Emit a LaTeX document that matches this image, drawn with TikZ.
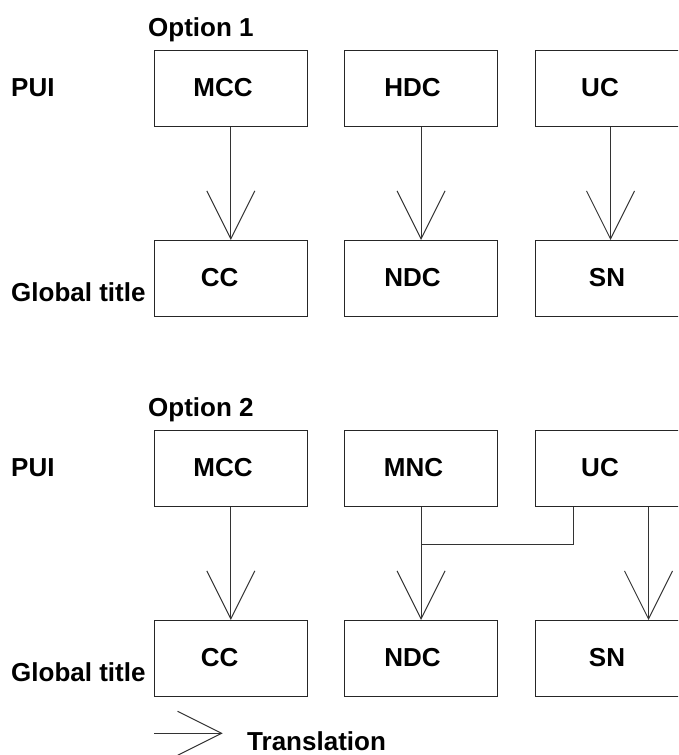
\documentclass[tikz,border=0pt]{standalone}
\usepackage{fontspec}
\setmainfont{Liberation Sans}
\usetikzlibrary{arrows.meta}
\begin{document}
\begin{tikzpicture}[x=1pt,y=1pt,
  box/.style={draw=black!85,line width=1pt,minimum width=153pt,minimum height=76pt,inner sep=0pt,outer sep=0pt,anchor=north west},
  txt/.style={inner sep=0pt,anchor=base,font=\fontsize{26}{30}\selectfont\bfseries},
  lbl/.style={inner sep=0pt,anchor=base west,font=\fontsize{26}{30}\selectfont\bfseries},
  tr/.style={draw=black!80,line width=1pt,-{Straight Barb[length=48pt,width=48pt,line width=1pt]}},
  ln/.style={draw=black!80,line width=1pt}]
\useasboundingbox (0,0) rectangle (678,-755);
\clip (0,0) rectangle (678,-755);
% ---------- Option 1 ----------
\node[lbl] (opt1) at (148,-36) {Option 1};
\node[lbl] (pui1) at (11,-96) {PUI};
\node[lbl] (gt1) at (11,-301) {Global title};
\node[box] (mcc1) at (154.3,-50.7) {};
\node[box] (hdc1) at (344.6,-50.7) {};
\node[box] (uc1) at (535.2,-50.7) {};
\node[box] (cc1) at (154.3,-240) {};
\node[box] (ndc1) at (344.6,-240) {};
\node[box] (sn1) at (535.2,-240) {};
\node[txt] (tmcc1) at (223,-96) {MCC};
\node[txt] (thdc1) at (412.6,-96) {HDC};
\node[txt] (tuc1) at (600,-96) {UC};
\node[txt] (tcc1) at (219.6,-286) {CC};
\node[txt] (tndc1) at (412.6,-286) {NDC};
\node[txt] (tsn1) at (607,-286) {SN};
\draw[tr] (mcc1.south) -- (cc1.north);
\draw[tr] (hdc1.south) -- (ndc1.north);
\draw[tr] ([xshift=75.3pt]uc1.south west) -- ([xshift=75.3pt]sn1.north west);
% ---------- Option 2 ----------
\node[lbl] (opt2) at (148,-416) {Option 2};
\node[lbl] (pui2) at (11,-476) {PUI};
\node[lbl] (gt2) at (11,-681) {Global title};
\node[box] (mcc2) at (154.3,-430.7) {};
\node[box] (mnc2) at (344.6,-430.7) {};
\node[box] (uc2) at (535.2,-430.7) {};
\node[box] (cc2) at (154.3,-620) {};
\node[box] (ndc2) at (344.6,-620) {};
\node[box] (sn2) at (535.2,-620) {};
\node[txt] (tmcc2) at (223,-476) {MCC};
\node[txt] (tmnc2) at (413.6,-476) {MNC};
\node[txt] (tuc2) at (600,-476) {UC};
\node[txt] (tcc2) at (219.6,-666) {CC};
\node[txt] (tndc2) at (412.6,-666) {NDC};
\node[txt] (tsn2) at (607,-666) {SN};
\coordinate (jn) at (421,-544.3);
\draw[tr] (mcc2.south) -- (cc2.north);
\draw[tr] (mnc2.south) -- (ndc2.north);
\draw[ln] ([xshift=38.1pt]uc2.south west) |- (jn);
\draw[tr] ([xshift=113.3pt]uc2.south west) -- ([xshift=113.3pt]sn2.north west);
% ---------- Legend ----------
\coordinate (ls) at (154,-733.3);
\node[lbl] (trans) at (247,-750) {Translation};
\draw[draw=black!80,line width=1pt,-{Straight Barb[length=44pt,width=44pt,line width=1pt]}] (ls) -- ++(68.7,0);
\end{tikzpicture}
\end{document}
